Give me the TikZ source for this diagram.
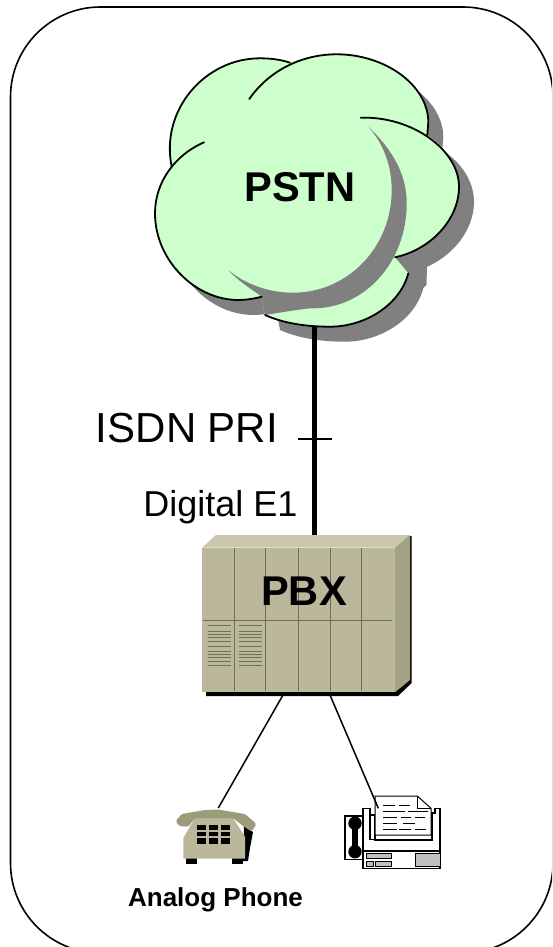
\documentclass[tikz,border=0pt]{standalone}
\usepackage{fontspec}
\setmainfont{Liberation Sans}
\definecolor{cloudgreen}{HTML}{CCFFCC}
\definecolor{shadowgray}{HTML}{808080}
\definecolor{pbxfront}{HTML}{BBB79B}
\definecolor{pbxtop}{HTML}{C9C8AE}
\definecolor{pbxside}{HTML}{A3A285}
\definecolor{pbxline}{HTML}{6F6F55}
\definecolor{handset}{HTML}{9C9C7A}
\definecolor{faxgray}{HTML}{C0C0C0}
\tikzset{
  cloudline/.style={draw=black,line width=1.8pt,line cap=round},
  pbxrule/.style={draw=pbxline,line width=1.1pt},
  ventrule/.style={draw=pbxline,line width=0.9pt},
  link/.style={draw=black,line width=1.5pt},
  trunk/.style={draw=black,line width=5.5pt},
  faxline/.style={draw=black,line width=1.6pt},
  bigbold/.style={font=\fontsize{41.6}{41.6}\selectfont\bfseries,anchor=base,inner sep=0pt},
  label/.style={anchor=base,inner sep=0pt},
}
\newcommand{\cloudshape}{(171.7,166.7) .. controls (160,110) and (205,58.3) .. (260,58.3)
  .. controls (272,58.3) and (282,60) .. (290,62.7)
  .. controls (305,57) and (320,54.3) .. (336.7,54.3)
  .. controls (385,54.3) and (428,85) .. (428.3,122) -- (427.3,135)
  .. controls (447,148) and (459,167) .. (459,186.7)
  .. controls (459,220) and (430,250) .. (395,257.3) -- (408.3,273.3)
  .. controls (400,305) and (365,326.7) .. (330,326.7)
  .. controls (305,326.7) and (283,323) .. (265,315) -- (261.7,296.7)
  .. controls (253,299) and (245,300) .. (238.3,300)
  .. controls (195,300) and (155,260) .. (155,213.3)
  .. controls (155,195) and (162,178) .. (171.7,166.7) -- cycle}
\begin{document}
\begin{tikzpicture}[x=1pt,y=-1pt]
\useasboundingbox (0,0) rectangle (552,947);
\clip (0,0) rectangle (552,947);
\draw[line width=1.6pt,rounded corners=90pt] (10.5,7) rectangle (553,953);

% cloud
\fill[shadowgray,xshift=15pt,yshift=-15pt] \cloudshape;
\fill[shadowgray] (395,272) -- (427,265) -- (426.5,285) -- (405,305) -- cycle;
\fill[cloudgreen] \cloudshape;
\fill[shadowgray] (368.3,126.7) .. controls (393,150) and (406.7,175) .. (406.7,203.3)
  .. controls (406.7,262) and (365,308.3) .. (313.3,308.3)
  .. controls (307,308.3) and (298,310) .. (290,311) -- (265,315) -- (261.7,296.7)
  .. controls (250,288) and (238,281) .. (228.3,270)
  .. controls (245,284) and (268,292.7) .. (293.3,292.7)
  .. controls (347,292.7) and (391.7,248) .. (391.7,190)
  .. controls (391.7,165) and (383,143) .. (368.3,126.7) -- cycle;
\draw[cloudline] (171.7,166.7) .. controls (160,110) and (205,58.3) .. (260,58.3)
  .. controls (272,58.3) and (282,60) .. (290,62.7);
\draw[cloudline] (249.3,99) .. controls (268,72) and (300,54.3) .. (336.7,54.3)
  .. controls (385,54.3) and (428,85) .. (428.3,122) -- (427.3,135);
\draw[cloudline] (360.7,117.7) .. controls (412,116) and (459,150) .. (459,186.7)
  .. controls (459,220) and (430,250) .. (395,257.3);
\draw[cloudline] (408.3,273.3) .. controls (400,305) and (365,326.7) .. (330,326.7)
  .. controls (305,326.7) and (283,323) .. (265,315);
\draw[cloudline] (204,142.3) .. controls (175,155) and (155,182) .. (155,213.3)
  .. controls (155,260) and (195,300) .. (238.3,300)
  .. controls (245,300) and (253,299) .. (261.7,296.7);
\node[bigbold] (pstn) at (299.8,201) {PSTN};
\coordinate (cloudbottom) at (314.7,326.5);

% PBX
\fill[black] (206,690) -- (206,696) -- (398,696) -- (411.7,683) -- (411.7,536) -- (405,536) -- (395,690) -- cycle;
\fill[pbxfront] (202,547.7) rectangle (395,692.3);
\fill[pbxtop] (202,547.7) -- (216,535) -- (410,535) -- (395,547.7) -- cycle;
\fill[pbxside] (395,547.7) -- (410,535) -- (410,680) -- (395,692.3) -- cycle;
\foreach \vx in {234.3,265.3,298.7,330.7,361.7}
  \draw[pbxrule] (\vx,548) -- (\vx,690.7);
\draw[pbxrule] (203.3,620.7) -- (391.7,620.7);
\foreach \vy in {625,631,634.3,637.7,641.7,646.7,651,654.3,657.7,661.7,665.7} {
  \draw[ventrule] (208.3,\vy) -- (230.7,\vy);
  \draw[ventrule] (239,\vy) -- (262.3,\vy);
}
\node[bigbold] (pbx) at (304,605.7) {PBX};
\coordinate (pbxtopc) at (314.7,535);
\coordinate (pbxleft) at (283,695);
\coordinate (pbxright) at (330,695);

% trunk
\draw[trunk] (cloudbottom) -- (pbxtopc);
\coordinate (tickl) at (298,439);
\coordinate (tickr) at (332,439);
\draw[draw=black,line width=1.3pt] (tickl) -- (tickr);
\node[label,font=\fontsize{42}{42}\selectfont] (isdn) at (187,442.7) {ISDN PRI};
\node[label,font=\fontsize{36}{36}\selectfont] (digital) at (220.5,516.7) {Digital E1};

% phone
\coordinate (phonetop) at (218.3,808);
\fill[black] (244,826) -- (253,832) -- (250,848) -- (248,861) -- (243,861) -- cycle;
\fill[black] (186,858) rectangle (197,864);
\fill[black] (232,858) rectangle (243,864);
\fill[pbxfront] (195,818) -- (233,818) -- (245,836.7) -- (245,858.5) -- (183.3,858.5) -- (183.3,838) -- cycle;
\fill[handset,rounded corners=1.5pt] (175.7,821) -- (181.7,814) -- (205,810) -- (218,809.5) -- (245,814) -- (256.5,824) -- (251.5,831.5) -- (241.7,825) -- (233,818) -- (195,818) -- (188.3,826.7) -- (179,826) -- cycle;
\fill[black] (196.7,825) rectangle (206,830);
\fill[black] (209,825) rectangle (218.3,830);
\fill[black] (221,825) rectangle (230,830);
\fill[black] (196.7,831.7) rectangle (206,836);
\fill[black] (209,831.7) rectangle (218.3,836);
\fill[black] (221,831.7) rectangle (230,836);
\fill[black] (196.7,837.7) rectangle (206,844);
\fill[black] (209,837.7) rectangle (218.3,844);
\fill[black] (221,837.7) rectangle (230,844);
\node[label,font=\fontsize{26}{26}\selectfont\bfseries] (analog) at (215.5,906.5) {Analog Phone};

% fax
\coordinate (faxtop) at (378.3,808.3);
\draw[faxline,fill=white] (345,816) rectangle (363.3,859.3);
\fill[black] (355,823.3) circle (6.7);
\fill[black] (355,851.7) circle (6.7);
\fill[black] (351.7,823.3) rectangle (358.3,851.7);
\draw[faxline,fill=white] (362.7,808.3) -- (370,808.3) -- (370,815) -- (375,815) -- (375,840) -- (431.7,840) -- (431.7,813) -- (435,813) -- (435,808.3) -- (440,808.3) -- (440,868.3) -- (362.7,868.3) -- cycle;
\draw[faxline] (370,815) -- (370,839.3) -- (431.7,839.3);
\draw[faxline] (362.7,850.7) -- (440,850.7);
\draw[line width=1pt,fill=white] (375,796) -- (417.3,796) -- (431,808.3) -- (431,835) -- (375,835) -- cycle;
\draw[line width=1pt] (417.3,796) -- (417.3,808.3) -- (431,808.3);
\foreach \lx/\ly/\lw in {383/805/12,399/805/11,383/811/22,408/811/20,383/817/14,401/817/10,415/817/10,383/823/14,403/823/12,383/829/14,399/829/12,415/829/11}
  \draw[line width=0.9pt] (\lx,\ly) -- ++(\lw,0);
\draw[line width=0.8pt,fill=faxgray] (366.7,853.3) rectangle (391.7,858.3);
\draw[line width=0.8pt,fill=faxgray] (366.7,861) rectangle (373.3,866);
\draw[line width=0.8pt,fill=faxgray] (375,861) rectangle (391.7,866);
\draw[line width=0.8pt,fill=faxgray] (415.7,853.3) rectangle (440,866);

% links
\draw[link] (pbxleft) -- (phonetop);
\draw[link] (pbxright) -- (faxtop);
\end{tikzpicture}
\end{document}
